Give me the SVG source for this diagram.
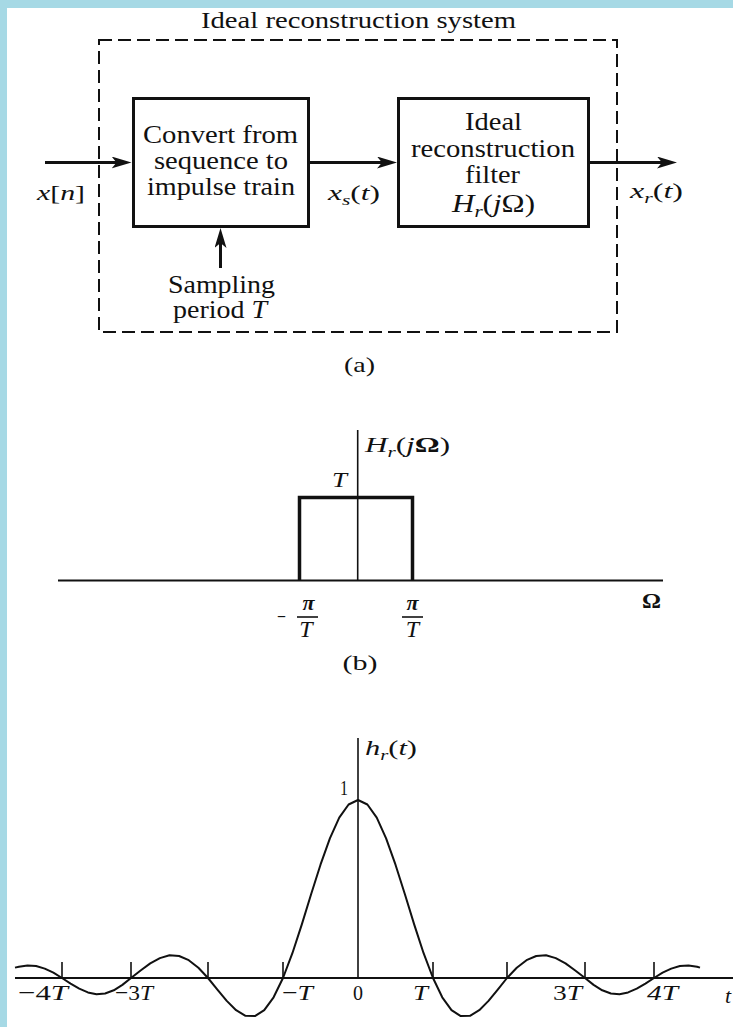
<svg xmlns="http://www.w3.org/2000/svg" width="733" height="1027" viewBox="0 0 733 1027" font-family="'Liberation Serif', 'Times New Roman', serif">
<defs>
<style>
text{font-family:'Liberation Serif','Times New Roman',serif;fill:#111;}
.t24{font-size:24px;}
.t25{font-size:25px;}
.t22{font-size:22px;}
.it{font-style:italic;}
.box{fill:#fff;stroke:#111;stroke-width:3;}
.dash{fill:none;stroke:#111;stroke-width:2;stroke-dasharray:13 6;}
.conn{stroke:#111;stroke-width:3;fill:none;}
.ax{stroke:#111;stroke-width:2;fill:none;}
.thin{stroke:#111;stroke-width:1.6;fill:none;}
</style>
<marker id="ah" viewBox="0 0 20 12" refX="12" refY="6" markerWidth="20" markerHeight="12" markerUnits="userSpaceOnUse" orient="auto">
<path d="M0,0 L20,6 L0,12 L5,6 Z" fill="#111"/>
</marker>
</defs>
<rect x="0" y="0" width="733" height="1027" fill="#fff"/>
<rect x="0" y="0" width="733" height="8" fill="#a6d9e5"/>
<rect x="0" y="0" width="7" height="1027" fill="#a6d9e5"/>

<g id="system">
<rect class="dash" x="99" y="40" width="518" height="292"/>
<text class="t24" x="358.5" y="28" text-anchor="middle" textLength="315" lengthAdjust="spacingAndGlyphs">Ideal reconstruction system</text>
</g>

<g id="box1">
<rect class="box" x="133.5" y="98.5" width="175" height="128"/>
<text class="t25" x="220.5" y="143" text-anchor="middle" textLength="155" lengthAdjust="spacingAndGlyphs">Convert from</text>
<text class="t25" x="221" y="169" text-anchor="middle" textLength="134" lengthAdjust="spacingAndGlyphs">sequence to</text>
<text class="t25" x="221" y="195" text-anchor="middle" textLength="148" lengthAdjust="spacingAndGlyphs">impulse train</text>
</g>

<g id="box2">
<rect class="box" x="398.5" y="98.5" width="190" height="128"/>
<text class="t25" x="493.5" y="130" text-anchor="middle" textLength="57" lengthAdjust="spacingAndGlyphs">Ideal</text>
<text class="t25" x="493" y="157" text-anchor="middle" textLength="164" lengthAdjust="spacingAndGlyphs">reconstruction</text>
<text class="t25" x="492.5" y="183" text-anchor="middle" textLength="55" lengthAdjust="spacingAndGlyphs">filter</text>
<text class="t25" x="493.5" y="212" text-anchor="middle" textLength="83" lengthAdjust="spacingAndGlyphs"><tspan class="it">H</tspan><tspan class="it" font-size="17" dy="5">r</tspan><tspan dy="-5">(</tspan><tspan class="it">j</tspan>Ω)</text>
</g>

<g id="sampling">
<text class="t25" x="221.5" y="293" text-anchor="middle" textLength="107" lengthAdjust="spacingAndGlyphs">Sampling</text>
<text class="t25" x="220" y="318" text-anchor="middle" textLength="94" lengthAdjust="spacingAndGlyphs">period <tspan class="it">T</tspan></text>
</g>

<g id="signal-labels">
<text class="t22" x="37" y="200" textLength="48" lengthAdjust="spacingAndGlyphs"><tspan class="it">x</tspan>[<tspan class="it">n</tspan>]</text>
<text class="t22" x="328" y="200" textLength="52" lengthAdjust="spacingAndGlyphs"><tspan class="it">x</tspan><tspan class="it" font-size="15" dy="5">s</tspan><tspan dy="-5">(</tspan><tspan class="it">t</tspan>)</text>
<text class="t22" x="630" y="198" textLength="53" lengthAdjust="spacingAndGlyphs"><tspan class="it">x</tspan><tspan class="it" font-size="15" dy="5">r</tspan><tspan dy="-5">(</tspan><tspan class="it">t</tspan>)</text>
<text class="t22" x="359.5" y="372" text-anchor="middle" textLength="31" lengthAdjust="spacingAndGlyphs">(a)</text>
</g>

<g id="connectors">
<line class="conn" x1="45" y1="162.5" x2="123.5" y2="162.5" marker-end="url(#ah)"/>
<line class="conn" x1="308.5" y1="162.5" x2="389" y2="162.5" marker-end="url(#ah)"/>
<line class="conn" x1="588.5" y1="162.5" x2="669" y2="162.5" marker-end="url(#ah)"/>
<line class="conn" x1="220.5" y1="268" x2="220.5" y2="236" marker-end="url(#ah)"/>
</g>

<g id="plot-b">
<line class="ax" x1="58" y1="580.5" x2="663" y2="580.5"/>
<line class="thin" x1="357.7" y1="430" x2="357.7" y2="580"/>
<path d="M299.5,580 V497.5 H412.5 V580" fill="none" stroke="#111" stroke-width="3.5"/>
<text class="t22" x="365" y="452" textLength="85" lengthAdjust="spacingAndGlyphs"><tspan class="it">H</tspan><tspan class="it" font-size="15" dy="5">r</tspan><tspan dy="-5">(</tspan><tspan class="it">j</tspan><tspan font-weight="bold">Ω</tspan>)</text>
<text class="t22 it" x="332" y="487" textLength="15" lengthAdjust="spacingAndGlyphs">T</text>
<text class="t22" x="642" y="608" font-weight="bold" textLength="19" lengthAdjust="spacingAndGlyphs">Ω</text>
<text class="t22" x="277" y="624" textLength="9" lengthAdjust="spacingAndGlyphs">−</text>
<text class="t22 it" x="308.5" y="610" text-anchor="middle" font-weight="bold">π</text>
<line x1="297" y1="617" x2="318" y2="617" stroke="#111" stroke-width="1.6"/>
<text class="t24 it" x="306" y="637" text-anchor="middle">T</text>
<text class="t22 it" x="412.5" y="610" text-anchor="middle" font-weight="bold">π</text>
<line x1="402" y1="617" x2="423" y2="617" stroke="#111" stroke-width="1.6"/>
<text class="t24 it" x="412.5" y="637" text-anchor="middle">T</text>
<text class="t22" x="360" y="670" text-anchor="middle" textLength="35" lengthAdjust="spacingAndGlyphs">(b)</text>
</g>

<g id="plot-c">
<line class="ax" x1="15" y1="978" x2="733" y2="978"/>
<line class="thin" x1="358" y1="738" x2="358" y2="978"/>
<path class="thin" d="M62,962V978 M131,962V978 M208,962V978 M283,962V978 M433,962V978 M507,962V978 M585,962V978 M654,962V978"/>
<path fill="none" stroke="#111" stroke-width="2" stroke-linejoin="round" d="M15,967.6 L18.9,966.7 L27.5,965.4 L36.1,966 L44.75,968.6 L53.4,972.7 L62,978 L70.6,983.6 L79.25,988.7 L87.9,992.4 L96.5,994.2 L105.1,993.5 L113.75,990.3 L122.4,984.9 L131,978 L140.6,970.5 L150.25,963.4 L159.9,958.1 L169.5,955.3 L179.1,956 L188.75,960.2 L198.4,967.8 L208,978 L217.4,989.6 L226.75,1000.9 L236.1,1010.2 L245.5,1015.8 L254.9,1016.1 L264.25,1010.1 L273.6,997.3 L283,978 L292.4,953.2 L301.75,924.6 L311.1,894.3 L320.5,864.7 L329.9,838.4 L339.25,817.7 L348.6,804.5 L358,800 L367.4,804.5 L376.75,817.7 L386.1,838.4 L395.5,864.7 L404.9,894.3 L414.25,924.6 L423.6,953.2 L433,978 L442.25,997.3 L451.5,1010.1 L460.75,1016.1 L470,1015.8 L479.25,1010.2 L488.5,1000.9 L497.75,989.6 L507,978 L516.75,967.8 L526.5,960.2 L536.25,956 L546,955.3 L555.75,958.1 L565.5,963.4 L575.25,970.5 L585,978 L593.6,984.9 L602.25,990.3 L610.9,993.5 L619.5,994.2 L628.1,992.4 L636.75,988.7 L645.4,983.6 L654,978 L662.6,972.7 L671.25,968.6 L679.9,966 L688.5,965.4 L697.1,966.7 L700,967.6"/>
<text class="t22" x="365" y="755" textLength="52" lengthAdjust="spacingAndGlyphs"><tspan class="it">h</tspan><tspan class="it" font-size="15" dy="5">r</tspan><tspan dy="-5">(</tspan><tspan class="it">t</tspan>)</text>
<text class="t22" x="340" y="795" textLength="8" lengthAdjust="spacingAndGlyphs">1</text>
<text class="t22" x="18" y="1000" textLength="50" lengthAdjust="spacingAndGlyphs">−4<tspan class="it">T</tspan></text>
<text class="t22" x="115" y="1000" textLength="38" lengthAdjust="spacingAndGlyphs">−3<tspan class="it">T</tspan></text>
<text class="t22" x="282" y="1000" textLength="31" lengthAdjust="spacingAndGlyphs">−<tspan class="it">T</tspan></text>
<text class="t22" x="353" y="1000" textLength="10" lengthAdjust="spacingAndGlyphs">0</text>
<text class="t22 it" x="413" y="1000" textLength="15" lengthAdjust="spacingAndGlyphs">T</text>
<text class="t22" x="553" y="1000" textLength="29" lengthAdjust="spacingAndGlyphs">3<tspan class="it">T</tspan></text>
<text class="t22 it" x="647" y="1000" textLength="31" lengthAdjust="spacingAndGlyphs">4T</text>
<text class="t22 it" x="725" y="1003">t</text>
</g>
</svg>
